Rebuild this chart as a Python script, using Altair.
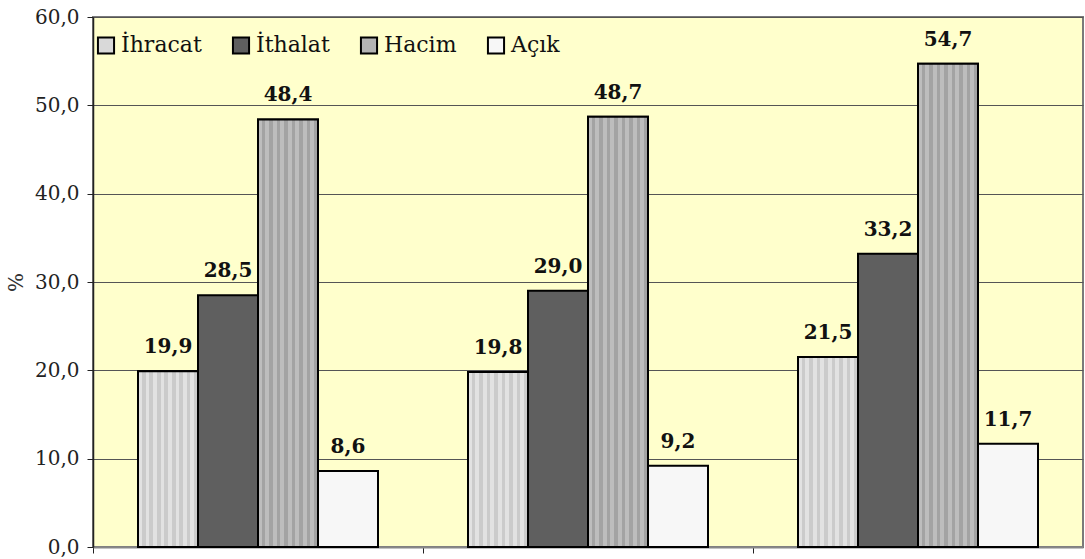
import altair as alt
import pandas as pd

groups = ["A", "B", "C"]
series = ["İhracat", "İthalat", "Hacim", "Açık"]
ihracat = [19.9, 19.8, 21.5]
ithalat = [28.5, 29.0, 33.2]
hacim = [48.4, 48.7, 54.7]
acik = [8.6, 9.2, 11.7]
y_ticks = [0, 10, 20, 30, 40, 50, 60]

rows = []
for i, g in enumerate(groups):
    for s, vals in zip(series, [ihracat, ithalat, hacim, acik]):
        rows.append({"grup": g, "seri": s, "deger": vals[i]})
df = pd.DataFrame(rows)

colors = ["#d9d9d9", "#5f5f5f", "#b4b4b4", "#f7f7f7"]
FONT = "DejaVu Serif"


def stripes(c1, c2, n=16):
    stops = []
    for k in range(n):
        a = k / n
        b = (k + 1) / n
        col = c1 if k % 2 == 0 else c2
        stops.append(alt.GradientStop(offset=a, color=col))
        stops.append(alt.GradientStop(offset=b, color=col))
    return alt.Gradient(gradient="linear", x1=0, x2=1, y1=0, y2=0, stops=stops)


xenc = alt.X("grup:N", sort=groups,
             scale=alt.Scale(paddingInner=0, paddingOuter=0),
             axis=alt.Axis(title=None, labels=False, bandPosition=0, ticks=True,
                           tickSize=6, tickColor="#222222", domainColor="#888888",
                           domainWidth=2, grid=False))
xoff = alt.XOffset("seri:N", sort=series,
                   scale=alt.Scale(domain=series, paddingInner=0, paddingOuter=0.75))
yenc = alt.Y("deger:Q",
             scale=alt.Scale(domain=[0, 60], nice=False),
             axis=alt.Axis(title="%", values=y_ticks,
                           labelExpr="replace(format(datum.value, '.1f'), '.', ',')",
                           grid=True))

base = alt.Chart(df)

bars = base.mark_bar(stroke="black", strokeWidth=2, opacity=1).encode(
    x=xenc, xOffset=xoff, y=yenc,
    color=alt.Color("seri:N", sort=series,
                    scale=alt.Scale(domain=series, range=colors),
                    legend=alt.Legend(title=None, orient="none", legendX=2, legendY=17,
                                      direction="horizontal")),
)

str1 = base.transform_filter(alt.datum.seri == "İhracat").mark_bar(
    stroke="black", strokeWidth=2, fill=stripes("#e2e2e2", "#cbcbcb")).encode(
    x=xenc, xOffset=xoff, y=yenc)
str2 = base.transform_filter(alt.datum.seri == "Hacim").mark_bar(
    stroke="black", strokeWidth=2, fill=stripes("#bdbdbd", "#a3a3a3")).encode(
    x=xenc, xOffset=xoff, y=yenc)

labels = base.transform_calculate(
    lbl="replace(format(datum.deger, '.1f'), '.', ',')"
).mark_text(font=FONT, fontSize=20, fontWeight="bold",
            baseline="bottom", dy=-14, color="#111111").encode(
    x=xenc, xOffset=xoff, y=yenc, text="lbl:N")

chart = alt.layer(bars, str1, str2, labels).properties(
    width=990, height=530,
    padding={"left": 93, "top": 17, "right": 2, "bottom": 12},
    autosize=alt.AutoSizeParams(type="none"),
    background="white",
).configure(font=FONT).configure_view(
    fill="#ffffcc", stroke="#7a7a7a", strokeWidth=2
).configure_axisY(
    labelFont=FONT, labelFontSize=20, labelColor="#222222", labelPadding=8,
    tickSize=6, tickColor="#222222", domainColor="#222222", domainWidth=1.5,
    titleFont=FONT, titleFontSize=20, titleFontWeight="normal", titleColor="#333333",
    titlePadding=8, gridColor="#555555", gridWidth=1.2
).configure_legend(
    symbolType="square", symbolSize=260, symbolStrokeColor="black",
    symbolStrokeWidth=2, symbolOpacity=1, labelFont=FONT, labelFontSize=22,
    labelColor="#111111", labelOffset=4, columnPadding=26, labelLimit=300
)

chart.save("out.html", embed_options={"renderer": "svg", "actions": False})
